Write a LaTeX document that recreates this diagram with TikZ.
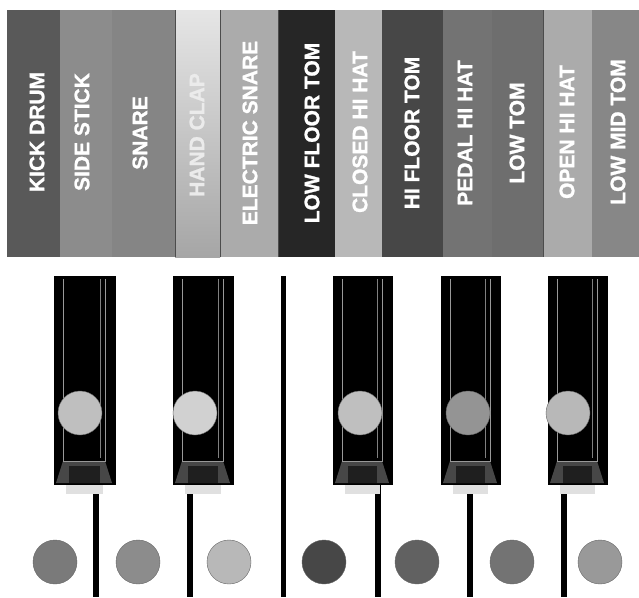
\documentclass[tikz,border=0pt]{standalone}
\usepackage{fontspec}
\setmainfont{Liberation Sans}
\newfontfamily\lblfont{Liberation Sans Bold}[FakeBold=1.2]
\begin{document}
\begin{tikzpicture}[x=1pt,y=-1pt,
  lbl/.style={text=white,font=\lblfont\fontsize{21}{21}\selectfont,rotate=90,inner sep=0pt},
  dot/.style={circle,inner sep=0pt,minimum size=44pt,draw=black!60,line width=0.4pt},
  blackkey/.style={fill=black,draw=black,inner sep=0pt,minimum width=60pt,minimum height=208pt},
  stem/.style={fill=black},
  rim/.style={draw=black!40,line width=0.8pt}
]
\useasboundingbox (0,0) rectangle (639,597);
\fill[white] (0,0) rectangle (639,597);

% ---- colour band ----
\fill[black!65] (7,10) rectangle (60,257);
\fill[black!45] (60,10) rectangle (112,257);
\fill[black!48] (112,10) rectangle (175,257);
\shade[top color=black!10,bottom color=black!35] (175,10) rectangle (220,257);
\fill[black!33] (220,10) rectangle (278,257);
\fill[black!85] (278,10) rectangle (335,257);
\fill[black!28] (335,10) rectangle (382,257);
\fill[black!72] (382,10) rectangle (443,257);
\fill[black!55] (443,10) rectangle (492,257);
\fill[black!57] (492,10) rectangle (543,257);
\fill[black!33] (543,10) rectangle (592,257);
\fill[black!47] (592,10) rectangle (639,257);
\draw[black!70,line width=0.6pt] (175,10) -- (175,257) (220,10) -- (220,257) (278,10) -- (278,257) (543,10) -- (543,257);

\node[lbl] (l1) at (37,132) {KICK DRUM};
\node[lbl] (l2) at (82,132) {SIDE STICK};
\node[lbl] (l3) at (140,133) {SNARE};
\node[lbl,text=white!92!black] (l4) at (197,135) {HAND CLAP};
\node[lbl] (l5) at (250,133) {ELECTRIC SNARE};
\node[lbl] (l6) at (312,133) {LOW FLOOR TOM};
\node[lbl] (l7) at (360,132) {CLOSED HI HAT};
\node[lbl] (l8) at (412,133) {HI FLOOR TOM};
\node[lbl] (l9) at (465,133) {PEDAL HI HAT};
\node[lbl] (l10) at (517,133) {LOW TOM};
\node[lbl] (l11) at (567,132) {OPEN HI HAT};
\node[lbl] (l12) at (618,132) {LOW MID TOM};

% ---- white key separators ----
\fill[stem] (93,480) rectangle (99,597);
\fill[stem] (187,480) rectangle (193,597);
\fill[stem] (281,276) rectangle (286,597);
\fill[stem] (375,480) rectangle (381,597);
\fill[stem] (467,480) rectangle (473,597);
\fill[stem] (561,480) rectangle (567,597);

% ---- black keys ----
\foreach \n/\xa/\xb in {k1/54/115,k2/173/233,k3/333/392,k4/441/500,k5/548/607}{
  \fill[black!12] (\xa+12,484) rectangle (\xb-12,494);
  \node[blackkey,minimum width=\xb-\xa] (\n) at ({(\xa+\xb)/2},380) {};
  \fill[black!72] (\xa+9,461) -- (\xb-10,461) -- (\xb-3,483) -- (\xa+2,483) -- cycle;
  \fill[black!88] (\xa+15,466) rectangle (\xb-15,483);
  \draw[rim] (\xa+9,279) -- (\xa+9,461) -- (\xb-10,461) -- (\xb-10,279);
  \draw[black!50,line width=0.6pt] (\xb-15,279) -- (\xb-15,458);
}

% ---- circles on black keys ----
\node[dot,fill=black!25] (c2) at (80,413) {};
\node[dot,fill=black!18] (c4) at (195,413) {};
\node[dot,fill=black!25] (c7) at (360,413) {};
\node[dot,fill=black!42] (c9) at (468,413) {};
\node[dot,fill=black!28] (c11) at (568,413) {};

% ---- circles on white keys ----
\node[dot,fill=black!52] (c1) at (55,562) {};
\node[dot,fill=black!45] (c3) at (138,562) {};
\node[dot,fill=black!28] (c5) at (229,562) {};
\node[dot,fill=black!72] (c6) at (324,562) {};
\node[dot,fill=black!62] (c8) at (417,562) {};
\node[dot,fill=black!55] (c10) at (512,562) {};
\node[dot,fill=black!40] (c12) at (600,562) {};
\end{tikzpicture}
\end{document}
